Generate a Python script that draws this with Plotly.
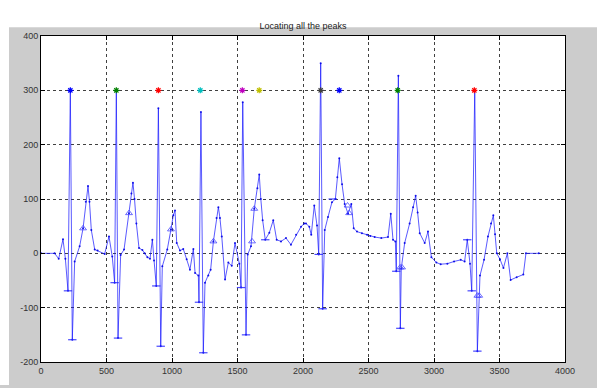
import plotly.graph_objects as go

# ---- data ----
sig_x = [0, 104, 135, 168, 186, 206, 224, 239, 257, 295, 321, 342, 359, 370, 384, 410, 432, 486,
         519, 544, 562, 575, 588, 608, 634, 672, 690, 702, 714, 728, 748, 774, 791, 812, 832, 850,
         863, 880, 896, 914, 926, 964, 992, 1010, 1023, 1036, 1061, 1086, 1112, 1137, 1163,
         1176, 1201, 1206, 1221, 1239, 1252, 1277, 1295, 1316, 1340, 1354, 1366, 1380, 1405, 1430,
         1456, 1481, 1514, 1527, 1540, 1565, 1578, 1603, 1628, 1652, 1666, 1678, 1692, 1712, 1743,
         1773, 1799, 1832, 1870, 1908, 1947, 1985, 2010, 2023, 2048, 2063, 2086, 2107,
         2120, 2135, 2150, 2166, 2191, 2221, 2247, 2262, 2277, 2298, 2318, 2344, 2369, 2387,
         2412, 2450, 2489, 2514, 2547, 2598, 2649, 2670, 2687, 2705, 2712, 2728, 2743,
         2750, 2776, 2814, 2840, 2860, 2875, 2891, 2929, 2954, 2980, 3018, 3051, 3102, 3153, 3204,
         3234, 3254, 3275, 3288, 3311, 3331, 3351, 3382, 3412, 3435, 3453, 3466, 3479, 3504, 3530,
         3560, 3585, 3631, 3682, 3702, 3800]
sig_y = [0, 0, -10, 26, -10, -69, 300, -159, -15, 13, 46, 95, 124, 95, 43, 7, 5, -1,
         31, -6, -54, 300, -156, -3, 7, 74, 110, 130, 100, 55, 10, 6, 0, -7, -10, 25,
         -13, -60, 267, -171, -24, 7, 44, 70, 79, 19, 5, 8, -11, -30, 8,
         -36, -41, -90, 260, -183, -54, -41, -30, 22, 65, 85, 65, 31, -48, -17,
         -23, 19, -19, -63, 278, -150, -2, 13, 82, 120, 145, 100, 61, 25, 38,
         61, 25, 22, 28, 16, 34, 49, 55, 55, 49, 34, 88, 51,
         -2, 350, -102, 43, 67, 94, 100, 140, 175, 127, 91, 73, 91, 46,
         40, 37, 34, 32, 30, 28, 30, 73, 25, 22, -33, 327, -138,
         -28, 19, 55, 85, 106, 75, 37, 19, 40, -7, -17, -20, -19, -15, -12,
         -15, 25, -19, -69, 300, -180, -41, -12, 31, 55, 70, 35, 0, -11, -27,
         0, -49, -44, -39, 0, 0]

tri_x = [321, 672, 992, 1316, 1611, 1628, 2340, 2352, 2742, 2756, 3331, 3345]
tri_y = [46, 74, 44, 22, 22, 82, 88, 74, -26, -26, -78, -78]

plus_x = [206, 239, 562, 588, 880, 914, 1206, 1239, 1527, 1565, 1712, 2120, 2150,
          2227, 2712, 2743, 3254, 3288, 3331]
plus_y = [-69, -159, -54, -156, -60, -171, -90, -183, -63, -150, 25, -2, -102,
          100, -33, -138, 25, -69, -180]

peak_x = [224, 575, 896, 1216, 1537, 1666, 2135, 2277, 2723, 3308]
peak_level = 300
peak_colors = ["#0000ff", "#008000", "#ff0000", "#00bfbf", "#bf00bf",
               "#bfbf00", "#404040", "#0000ff", "#008000", "#ff0000"]

x_ticks = [0, 500, 1000, 1500, 2000, 2500, 3000, 3500, 4000]
y_ticks = [-200, -100, 0, 100, 200, 300, 400]

title_text = "Locating all the peaks"

# ---- figure ----
line_col = "rgba(20,20,255,0.7)"
fig = go.Figure()
fig.add_trace(go.Scatter(x=sig_x, y=sig_y, mode="lines+markers",
                         line=dict(color=line_col, width=1),
                         marker=dict(size=2, color="rgba(0,0,230,0.9)"),
                         hoverinfo="skip", showlegend=False))
fig.add_trace(go.Scatter(x=tri_x, y=tri_y, mode="markers",
                         marker=dict(symbol="triangle-up-open", size=6,
                                     color="rgba(60,60,255,0.75)", line=dict(width=1)),
                         showlegend=False))
fig.add_trace(go.Scatter(x=plus_x, y=plus_y, mode="markers",
                         marker=dict(symbol="line-ew-open", size=6,
                                     color="rgba(40,40,255,0.85)", line=dict(width=1.2)),
                         showlegend=False))
for px, pc in zip(peak_x, peak_colors):
    fig.add_trace(go.Scatter(x=[px], y=[peak_level], mode="markers",
                             marker=dict(symbol="asterisk-open", size=5,
                                         color=pc, line=dict(width=1.2, color=pc)),
                             showlegend=False))

axis_common = dict(showgrid=True, gridcolor="#404040", griddash="dot", gridwidth=1,
                   showline=True, linecolor="black", linewidth=1, mirror="ticks",
                   ticks="inside", ticklen=4, tickcolor="black", zeroline=False,
                   tickfont=dict(family="Liberation Sans, Arial", size=9, color="#333333"))

fig.update_xaxes(range=[0, 4000], tickvals=x_ticks, ticktext=[str(v) for v in x_ticks],
                 **axis_common)
fig.update_yaxes(range=[-200, 400], tickvals=y_ticks, ticktext=[str(v) for v in y_ticks],
                 **axis_common)

# left/top white strips outside the gray figure background
W, H = 597, 388
L, R, T, B = 41, 32, 36, 20
pw, ph = W - L - R, H - T - B
fig.add_shape(type="rect", xref="paper", yref="paper",
              x0=-L / pw - 0.01, x1=(9 - L) / pw, y0=-B / ph - 0.01, y1=(H - T) / ph + 0.2,
              fillcolor="white", line=dict(width=0), layer="above")
fig.add_shape(type="rect", xref="paper", yref="paper",
              x0=-L / pw - 0.01, x1=(W - L) / pw + 0.01, y0=(H - T - 11) / ph, y1=(H - T) / ph + 0.2,
              fillcolor="white", line=dict(width=0), layer="above")

fig.update_layout(
    width=W, height=H,
    margin=dict(l=L, r=R, t=T, b=B),
    paper_bgcolor="#cccccc", plot_bgcolor="white",
    title=dict(text=title_text, x=(303) / W, xanchor="center", y=1 - 26 / H, yanchor="middle",
               font=dict(family="Liberation Sans, Arial", size=9, color="#222222")),
    showlegend=False,
)

fig.write_html("out.html")
